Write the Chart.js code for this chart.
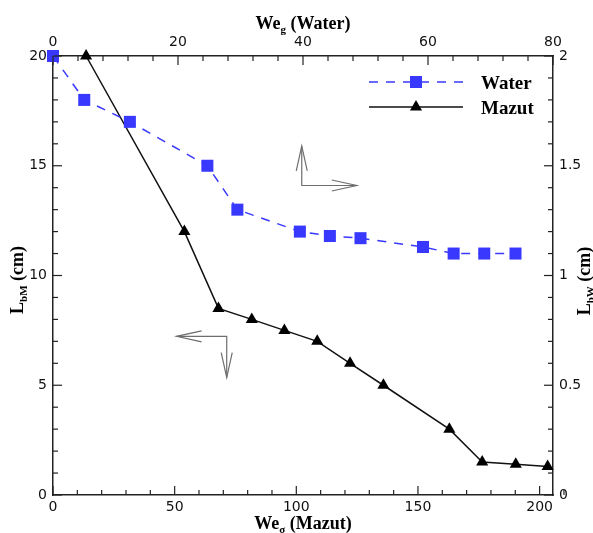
<!DOCTYPE html>
<html>
<head>
<meta charset="utf-8">
<title>Breakup length vs Weber number</title>
<script src="https://cdn.jsdelivr.net/npm/chart.js@4/dist/chart.umd.min.js"></script>
<style>
  html, body { margin: 0; padding: 0; background: #fff; }
  #wrap { width: 593px; height: 533px; position: relative; }
</style>
</head>
<body>
<div id="wrap"><canvas id="chart"></canvas></div>
<script>
// Mazut: We_sigma (bottom axis) vs L_bM in cm (left axis)
var mazutWe = [13.6, 54, 68, 81.7, 95.1, 108.6, 122.1, 135.8, 162.9, 176.4, 190.2, 203.3];
var mazutL  = [20, 12, 8.5, 8, 7.5, 7, 6, 5, 3, 1.5, 1.4, 1.3];

// Water: We_g (top axis) vs L_bW in cm (right axis)
var waterWe = [0, 5, 12.3, 24.7, 29.5, 39.5, 44.3, 49.2, 59.2, 64.1, 69, 74];
var waterL  = [2, 1.8, 1.7, 1.5, 1.3, 1.2, 1.18, 1.17, 1.13, 1.1, 1.1, 1.1];

// tick labels
var bottomTicks = [0, 50, 100, 150, 200];
var topTicks    = [0, 20, 40, 60, 80];
var leftTicks   = [0, 5, 10, 15, 20];
var rightTicks  = [0, 0.5, 1, 1.5, 2];

(function () {
  'use strict';

  var BLUE = '#3838ff';
  var TICK_FONT = { family: '"DejaVu Sans", sans-serif', size: 14 };
  var SERIF = '"Liberation Serif", "Times New Roman", serif';

  function pts(xs, ys) {
    return xs.map(function (x, i) { return { x: x, y: ys[i] }; });
  }

  function fixTicks(values) {
    return function (scale) { scale.ticks = values.map(function (v) { return { value: v }; }); };
  }

  function fixSize(size) {
    return function (scale) {
      if (scale.isHorizontal()) scale.height = size; else scale.width = size;
    };
  }

  // inward tick marks, major + minor
  var tickMarks = {
    id: 'tickMarks',
    afterDraw: function (chart) {
      var ctx = chart.ctx, a = chart.chartArea;
      var spec = [
        { id: 'x', minor: 10, side: 'bottom' },
        { id: 'xTop', minor: 4, side: 'top' },
        { id: 'y', minor: 1, side: 'left' },
        { id: 'yRight', minor: 0.1, side: 'right' }
      ];
      ctx.save();
      ctx.strokeStyle = '#222';
      ctx.lineWidth = 1.2;
      spec.forEach(function (s) {
        var sc = chart.scales[s.id];
        var n = Math.round((sc.max - sc.min) / s.minor);
        for (var i = 0; i <= n; i++) {
          var v = sc.min + i * s.minor;
          var major = sc.ticks.some(function (t) { return Math.abs(t.value - v) < 1e-6; });
          var len = major ? 9 : 5;
          var p = sc.getPixelForValue(v);
          ctx.beginPath();
          if (s.side === 'bottom') { ctx.moveTo(p, a.bottom); ctx.lineTo(p, a.bottom - len); }
          if (s.side === 'top')    { ctx.moveTo(p, a.top);    ctx.lineTo(p, a.top + len); }
          if (s.side === 'left')   { ctx.moveTo(a.left, p);   ctx.lineTo(a.left + len, p); }
          if (s.side === 'right')  { ctx.moveTo(a.right, p);  ctx.lineTo(a.right - len, p); }
          ctx.stroke();
        }
      });
      ctx.restore();
    }
  };

  // text with a subscript: parts = [[text, isSub], ...]
  function subText(ctx, parts, x, y, align) {
    var big = 'bold 18px ' + SERIF, small = 'bold 11px ' + SERIF;
    var w = 0;
    parts.forEach(function (p) { ctx.font = p[1] ? small : big; w += ctx.measureText(p[0]).width; });
    var cx = align === 'center' ? x - w / 2 : x;
    ctx.textAlign = 'left';
    ctx.textBaseline = 'alphabetic';
    parts.forEach(function (p) {
      ctx.font = p[1] ? small : big;
      ctx.fillText(p[0], cx, y + (p[1] ? 4 : 0));
      cx += ctx.measureText(p[0]).width;
    });
  }

  var titles = {
    id: 'titles',
    afterDraw: function (chart) {
      var ctx = chart.ctx, a = chart.chartArea;
      var mid = (a.left + a.right) / 2;
      ctx.save();
      ctx.fillStyle = '#000';
      subText(ctx, [['We', 0], ['g', 1], [' (Water)', 0]], mid, 29, 'center');
      subText(ctx, [['We', 0], ['σ', 1], [' (Mazut)', 0]], mid, 529, 'center');

      ctx.save();
      ctx.translate(23, 280);
      ctx.rotate(-Math.PI / 2);
      subText(ctx, [['L', 0], ['bM', 1], [' (cm)', 0]], 0, 0, 'center');
      ctx.restore();

      ctx.save();
      ctx.translate(590, 281);
      ctx.rotate(-Math.PI / 2);
      subText(ctx, [['L', 0], ['bW', 1], [' (cm)', 0]], 0, 0, 'center');
      ctx.restore();
      ctx.restore();
    }
  };

  // legend drawn inside the plot, top right
  var insideLegend = {
    id: 'insideLegend',
    afterDraw: function (chart) {
      var ctx = chart.ctx;
      var rows = [{ ds: 0, y: 82 }, { ds: 1, y: 107 }];
      ctx.save();
      rows.forEach(function (r) {
        var ds = chart.data.datasets[r.ds];
        ctx.strokeStyle = ds.borderColor;
        ctx.lineWidth = ds.borderWidth;
        ctx.setLineDash(ds.borderDash || []);
        ctx.beginPath();
        ctx.moveTo(369, r.y);
        ctx.lineTo(463, r.y);
        ctx.stroke();
        ctx.setLineDash([]);
        ctx.fillStyle = ds.pointBackgroundColor;
        Chart.helpers.drawPoint(ctx, { pointStyle: ds.pointStyle, radius: ds.pointRadius, borderWidth: 0 }, 416, r.y);
        ctx.fillStyle = '#000';
        ctx.font = 'bold 19px ' + SERIF;
        ctx.textAlign = 'left';
        ctx.textBaseline = 'alphabetic';
        ctx.fillText(ds.label, 481, r.y + 7);
      });
      ctx.restore();
    }
  };

  // gray direction arrows, placed in data units of their axes
  var arrows = {
    id: 'arrows',
    afterDraw: function (chart) {
      var ctx = chart.ctx, s = chart.scales;
      function head(tx, ty, dx, dy) {
        // dx,dy: unit direction pointing back from the tip
        var L = 25, W = 5.5;
        ctx.beginPath();
        ctx.moveTo(tx + dx * L - dy * W, ty + dy * L + dx * W);
        ctx.lineTo(tx, ty);
        ctx.lineTo(tx + dx * L + dy * W, ty + dy * L - dx * W);
        ctx.stroke();
      }
      ctx.save();
      ctx.strokeStyle = '#6e6e6e';
      ctx.lineWidth = 1.2;

      // water: up and right
      var cx = s.xTop.getPixelForValue(39.8), cy = s.yRight.getPixelForValue(1.41);
      var upY = s.yRight.getPixelForValue(1.59), rX = s.xTop.getPixelForValue(48.6);
      ctx.beginPath(); ctx.moveTo(cx, upY); ctx.lineTo(cx, cy); ctx.lineTo(rX, cy); ctx.stroke();
      head(cx, upY, 0, 1);
      head(rX, cy, -1, 0);

      // mazut: left and down
      cx = s.x.getPixelForValue(71.4); cy = s.y.getPixelForValue(7.23);
      var lX = s.x.getPixelForValue(50.8), dY = s.y.getPixelForValue(5.35);
      ctx.beginPath(); ctx.moveTo(lX, cy); ctx.lineTo(cx, cy); ctx.lineTo(cx, dY); ctx.stroke();
      head(lX, cy, 1, 0);
      head(cx, dY, 0, -1);
      ctx.restore();
    }
  };

  function axis(pos, min, max, ticks, size, pad) {
    return {
      type: 'linear', position: pos, min: min, max: max,
      afterBuildTicks: fixTicks(ticks),
      afterFit: fixSize(size),
      grid: { display: false, drawTicks: false },
      border: { display: true, color: '#222', width: 1.5 },
      ticks: {
        color: '#111', font: TICK_FONT, padding: pad, maxRotation: 0, autoSkip: false,
        callback: function (v) { return String(v); }
      }
    };
  }

  new Chart(document.getElementById('chart'), {
    type: 'scatter',
    data: {
      datasets: [
        {
          label: 'Water', data: pts(waterWe, waterL), xAxisID: 'xTop', yAxisID: 'yRight',
          showLine: true, borderColor: BLUE, borderWidth: 1.5, borderDash: [9, 8], clip: false,
          pointStyle: 'rect', pointRadius: 8.5, pointBackgroundColor: BLUE, pointBorderWidth: 0
        },
        {
          label: 'Mazut', data: pts(mazutWe, mazutL), xAxisID: 'x', yAxisID: 'y',
          showLine: true, borderColor: '#111', borderWidth: 1.5, clip: false,
          pointStyle: 'triangle', pointRadius: 7, pointBackgroundColor: '#000', pointBorderWidth: 0
        }
      ]
    },
    options: {
      responsive: true, maintainAspectRatio: false, animation: false,
      layout: { padding: 0 },
      plugins: { legend: { display: false }, tooltip: { enabled: false } },
      scales: {
        x: axis('bottom', 0, 205.5, bottomTicks, 38, 4),
        xTop: axis('top', 0, 80, topTicks, 56, 5),
        y: axis('left', 0, 20, leftTicks, 53, 6),
        yRight: axis('right', 0, 2, rightTicks, 40, 6)
      }
    },
    plugins: [tickMarks, arrows, titles, insideLegend]
  });
}());
</script>
</body>
</html>
